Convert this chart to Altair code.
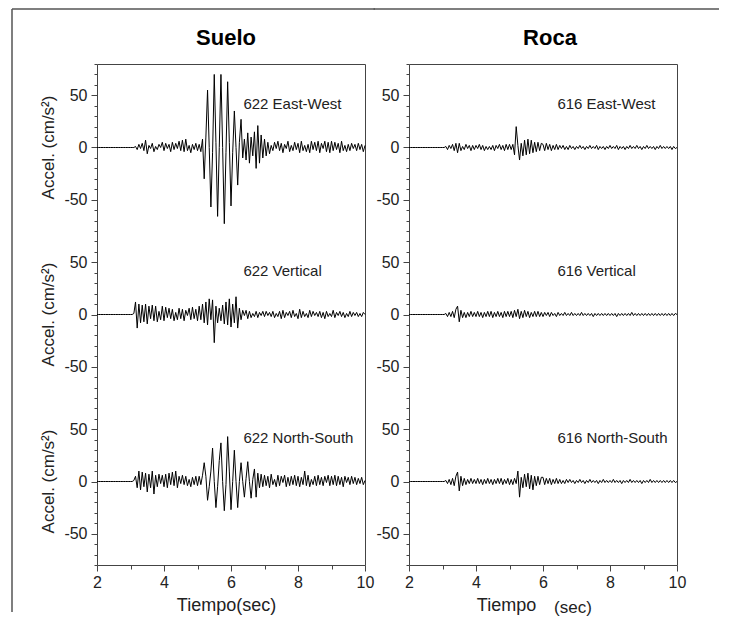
import altair as alt
import pandas as pd

# sample times (s), 0.05 s step from 2 to 10
TIME = [round(2 + 0.05 * i, 2) for i in range(161)]

# ---- Suelo: station 622 (cm/s^2), one row = 1 s (20 samples) ----
S622_EW = [
    0, 0, 0, 0, 0, 0, 0, 0, 0, 0, 0, 0, 0, 0, 0, 0, 0, 0, 0, 0,
    0, 0, 0, 1, -2, 3, -1, 4, -3, 7, -6, 2, -1, 4, -4, 1, -2, 3, 0, 5,
    -3, 4, -1, 3, -4, 5, -2, 4, -1, 6, -3, 7, -4, 8, -3, 2, -5, 3, -2, 4,
    -3, 3, -4, 8, -30, 10, 55, 0, -57, -5, 70, 5, -66, 0, 70, 0, -73, -5, 63, 5,
    -56, -5, 35, 0, -36, 5, 27, -10, 8, -12, 14, -15, 10, -8, 15, -20, 21, -15, 12, -10,
    8, -8, 5, -6, 2, -3, 5, -1, 6, -3, 4, -5, 3, -1, 6, -4, 2, -3, 5, -2,
    4, -5, 6, -3, 2, -4, 3, -5, 6, -2, 5, -3, 6, -5, 4, -1, 6, -4, 5, -5,
    6, -3, 5, -2, 4, -5, 6, -3, 2, -4, 3, -3, 4, -1, 3, -3, 4, -2, 3, -4, 2,
]
S622_V = [
    0, 0, 0, 0, 0, 0, 0, 0, 0, 0, 0, 0, 0, 0, 0, 0, 0, 0, 0, 0,
    0, 0, 1, 12, -13, 10, -8, 9, -7, 10, -9, 8, -4, 9, -6, 8, -7, 3, -5, 8,
    -6, 7, -3, 6, -4, 5, -6, 2, -5, 6, -4, 5, -6, 4, -1, 6, -5, 7, -4, 5,
    -6, 8, -5, 10, -8, 12, -10, 15, -5, 14, -27, 8, -8, 6, -6, 9, -9, 12, -10, 15,
    -12, 10, -8, 17, -13, 6, -5, 4, -1, 4, -4, 3, -3, 1, -2, 3, -3, 2, -1, 3,
    -2, 3, -1, 2, -2, 3, -3, 1, -2, 3, -4, 4, -3, 2, -1, 3, -3, 4, -2, 1,
    -4, 5, -3, 3, -2, 1, -3, 4, -2, 3, -1, 2, -2, 3, -3, 2, -4, 3, -2, 1,
    -2, 4, -3, 2, -1, 3, -2, 2, -3, 1, -2, 3, -2, 2, -1, 2, -2, 1, -2, 2, 0,
]
S622_NS = [
    0, 0, 0, 0, 0, 0, 0, 0, 0, 0, 0, 0, 0, 0, 0, 0, 0, 0, 0, 0,
    0, 0, 1, 5, -6, 10, -8, 9, -5, 8, -10, 7, -6, 10, -12, 6, -5, 7, -2, 6,
    -5, 7, -6, 8, -3, 9, -4, 10, -6, 5, -2, 6, -3, 5, -4, 2, -5, 4, -3, 5,
    -4, 5, -3, 6, 18, 5, -18, -5, 10, 32, 0, -25, -5, 20, 37, 0, -28, -3, 43, 10,
    -27, 0, 30, 0, -25, 0, 18, 0, -15, 3, 19, 0, -16, 2, 12, -15, 8, -6, 7, -5,
    6, -4, 5, -6, 7, -3, 2, -5, 6, -4, 5, -1, 6, -5, 4, -4, 5, -3, 6, -4,
    5, -5, 4, -3, 10, -4, 6, -5, 2, -3, 5, -4, 6, -3, 4, -4, 5, -1, 6, -4,
    5, -3, 6, -4, 5, -3, 4, -5, 5, -1, 4, -3, 5, -2, 4, -3, 3, -2, 4, -3, 1,
]

# ---- Roca: station 616 ----
R616_EW = [
    0, 0, 0, 0, 0, 0, 0, 0, 0, 0, 0, 0, 0, 0, 0, 0, 0, 0, 0, 0,
    0, 0, 1, -2, 2, -1, 3, -3, 4, -5, 4, -3, 1, -2, 3, -1, 2, -3, 2, -2,
    2, -1, 3, -2, 2, -3, 1, -2, 1, -2, 2, -3, 2, -1, 3, -2, 2, -3, 3, -2,
    3, -2, 3, -7, 20, 2, -12, 4, -8, 7, -7, 8, -6, 7, -5, 5, -4, 5, -3, 4,
    3, -3, 4, -2, 3, -3, 2, -2, 3, -2, 2, -1, 2, -2, 1, -2, 2, -1, 1, -2,
    1, -1, 2, -1, 1, -2, 1, -1, 2, -1, 1, -1, 2, -2, 1, -1, 1, -2, 1, -1,
    2, -1, 1, -1, 2, -2, 1, -1, 1, -2, 1, -1, 2, -1, 1, -1, 2, -1, 1, -2,
    1, -1, 2, -1, 1, -1, 1, -2, 1, -1, 2, -1, 1, -1, 1, -1, 1, -2, 1, -1, 0,
]
R616_V = [
    0, 0, 0, 0, 0, 0, 0, 0, 0, 0, 0, 0, 0, 0, 0, 0, 0, 0, 0, 0,
    0, 0, 1, -2, 2, -2, 3, -3, 5, 8, -7, 4, -3, 2, -3, 2, -2, 3, -2, 2,
    -2, 3, -2, 2, -3, 2, -2, 3, -2, 3, -3, 2, -2, 3, -2, 2, -3, 3, -2, 3,
    -2, 3, -3, 4, -2, 5, -4, 3, -3, 4, -2, 3, -3, 2, -2, 3, -2, 3, -2, 2,
    -2, 2, -1, 2, -2, 2, -1, 1, -2, 2, -1, 1, -1, 2, -1, 1, -1, 2, -1, 1,
    -1, 1, -1, 2, -1, 1, -1, 1, -1, 1, -2, 1, -1, 1, -1, 1, -1, 1, -1, 1,
    -1, 1, -1, 1, -2, 1, -1, 1, -1, 1, -1, 1, -1, 2, -1, 1, -1, 1, -1, 1,
    -1, 1, -1, 1, -1, 1, -1, 1, -1, 1, -1, 1, -1, 1, -1, 1, -1, 1, -1, 1, 0,
]
R616_NS = [
    0, 0, 0, 0, 0, 0, 0, 0, 0, 0, 0, 0, 0, 0, 0, 0, 0, 0, 0, 0,
    0, 0, 1, -2, 2, -3, 3, -4, 5, 9, -9, 5, -4, 3, -3, 2, -2, 3, -2, 2,
    -2, 3, -2, 2, -3, 2, -2, 3, -2, 2, -3, 2, -2, 3, -2, 3, -3, 2, -2, 3,
    -3, 2, -3, 3, -2, 10, -15, 4, -6, 7, -5, 8, -7, 6, -8, 5, -4, 5, -3, 4,
    4, -3, 3, -2, 3, -3, 2, -2, 3, -2, 2, -2, 1, -2, 2, -1, 2, -1, 1, -2,
    1, -1, 2, -1, 1, -2, 1, -1, 2, -1, 1, -1, 1, -2, 1, -1, 2, -1, 1, -1,
    1, -1, 2, -1, 1, -1, 1, -2, 1, -1, 1, -1, 2, -1, 1, -1, 1, -1, 1, -2,
    1, -1, 1, -1, 2, -1, 1, -1, 1, -1, 1, -1, 1, -1, 1, -1, 1, -1, 1, -1, 0,
]

COMPONENTS = ["East-West", "Vertical", "North-South"]
OFFSETS = [160, 0, -160]          # stacking of the three panels
LABEL_Y = 42                      # annotation height inside each panel

FONT = "Liberation Sans"
INK = "#222222"
AXC = "#444444"
FRAME = "#555555"
W, H = 268, 501

MAJOR_Y = [210, 160, 110, 50, 0, -50, -110, -160, -210]
MINOR_Y = [v for v in range(-240, 250, 10) if v not in MAJOR_Y]
LABEL_EXPR = ("'' + (datum.value > 80 ? datum.value - 160 : "
              "(datum.value < -80 ? datum.value + 160 : datum.value))")

one = pd.DataFrame({"k": [0]})


def column(station, series, label_x, col_title, title_x, xtitle, xtitle_x, left):
    rows = []
    for comp, off, vals in zip(COMPONENTS, OFFSETS, series):
        for t, a in zip(TIME, vals):
            rows.append({"t": t, "a": a, "y": a + off, "comp": comp})
    df = pd.DataFrame(rows)

    xs = alt.Scale(domain=[2, 10], nice=False, zero=False)
    ys = alt.Scale(domain=[-240, 240], nice=False, zero=False)

    x_major = alt.Axis(values=[2, 4, 6, 8, 10], tickSize=6, tickColor=AXC,
                       domainColor=AXC, labelFont=FONT, labelFontSize=16,
                       labelColor=INK, labelPadding=3, labelFlush=False,
                       grid=False, title=xtitle, titleFont=FONT,
                       titleFontSize=18, titleFontWeight="normal",
                       titleColor=INK, titleX=xtitle_x, titleY=45,
                       titleAlign="center", titleBaseline="alphabetic")
    y_major = alt.Axis(values=MAJOR_Y, tickSize=6, tickColor=AXC,
                       domainColor=AXC, labelFont=FONT, labelFontSize=16,
                       labelColor=INK, labelPadding=4, labelExpr=LABEL_EXPR,
                       grid=False, title=None)

    line = alt.Chart(df).mark_line(color="black", strokeWidth=1.0).encode(
        x=alt.X("t:Q", scale=xs, axis=x_major),
        y=alt.Y("y:Q", scale=ys, axis=y_major),
        detail="comp:N",
    )

    ann_df = pd.DataFrame({
        "t": [label_x] * 3,
        "y": [o + LABEL_Y for o in OFFSETS],
        "txt": [f"{station} {c}" for c in COMPONENTS],
    })
    ann = alt.Chart(ann_df).mark_text(
        align="left", baseline="middle", font=FONT, fontSize=15, color=INK
    ).encode(
        x=alt.X("t:Q", axis=alt.Axis(orient="bottom", values=[3, 5, 7, 9],
                                     tickSize=4, tickColor=AXC, labels=False,
                                     domain=False, grid=False, title=None)),
        y=alt.Y("y:Q", axis=alt.Axis(orient="left", values=MINOR_Y,
                                     tickSize=3, tickColor=AXC, labels=False,
                                     domain=False, grid=False, title=None)),
        text="txt:N",
    )

    border = alt.Chart(ann_df).mark_text(text="").encode(
        x=alt.X("t:Q", axis=alt.Axis(orient="top", domain=True, domainColor=AXC,
                                     ticks=False, labels=False, grid=False,
                                     title=None)),
        y=alt.Y("y:Q", axis=alt.Axis(orient="right", domain=True, domainColor=AXC,
                                     ticks=False, labels=False, grid=False,
                                     title=None)),
    )

    head = alt.Chart(one).mark_text(
        text=col_title, font=FONT, fontSize=22, fontWeight="bold",
        color="black", align="center", baseline="alphabetic"
    ).encode(x=alt.value(title_x), y=alt.value(-19))

    layers = [line, ann, border, head]

    if left:
        ytitle_df = pd.DataFrame({"y": OFFSETS})
        ytitles = alt.Chart(ytitle_df).mark_text(
            text="Accel. (cm/s²)", angle=270, font=FONT, fontSize=17,
            color=INK, align="center", baseline="middle"
        ).encode(x=alt.value(-48), y=alt.Y("y:Q", axis=None))
        vline = alt.Chart(one).mark_rule(color=FRAME, strokeWidth=1.5).encode(
            x=alt.value(-85), y=alt.value(-55), y2=alt.value(548))
        hline = alt.Chart(one).mark_rule(color=FRAME, strokeWidth=1.5).encode(
            x=alt.value(-85), x2=alt.value(W + 10), y=alt.value(-55))
        layers += [ytitles, vline, hline]
    else:
        hline = alt.Chart(one).mark_rule(color=FRAME, strokeWidth=1.5).encode(
            x=alt.value(-35.5), x2=alt.value(310), y=alt.value(-55))
        sec = alt.Chart(one).mark_text(
            text="(sec)", font=FONT, fontSize=17, color=INK,
            align="center", baseline="alphabetic"
        ).encode(x=alt.value(164), y=alt.value(H + 48))
        layers += [hline, sec]

    return alt.layer(*layers).resolve_axis(
        x="independent", y="independent"
    ).properties(width=W, height=H)


left_col = column("622", [S622_EW, S622_V, S622_NS], 6.37, "Suelo", 129,
                  "Tiempo(sec)", 129, True)
right_col = column("616", [R616_EW, R616_V, R616_NS], 6.43, "Roca", 141,
                   "Tiempo", 97, False)

chart = alt.hconcat(left_col, right_col, spacing=-4).configure_view(
    stroke=None
).properties(padding={"left": 3, "top": 0, "right": 0, "bottom": 0})

chart.save("out.html", embed_options={"renderer": "svg", "actions": False})
